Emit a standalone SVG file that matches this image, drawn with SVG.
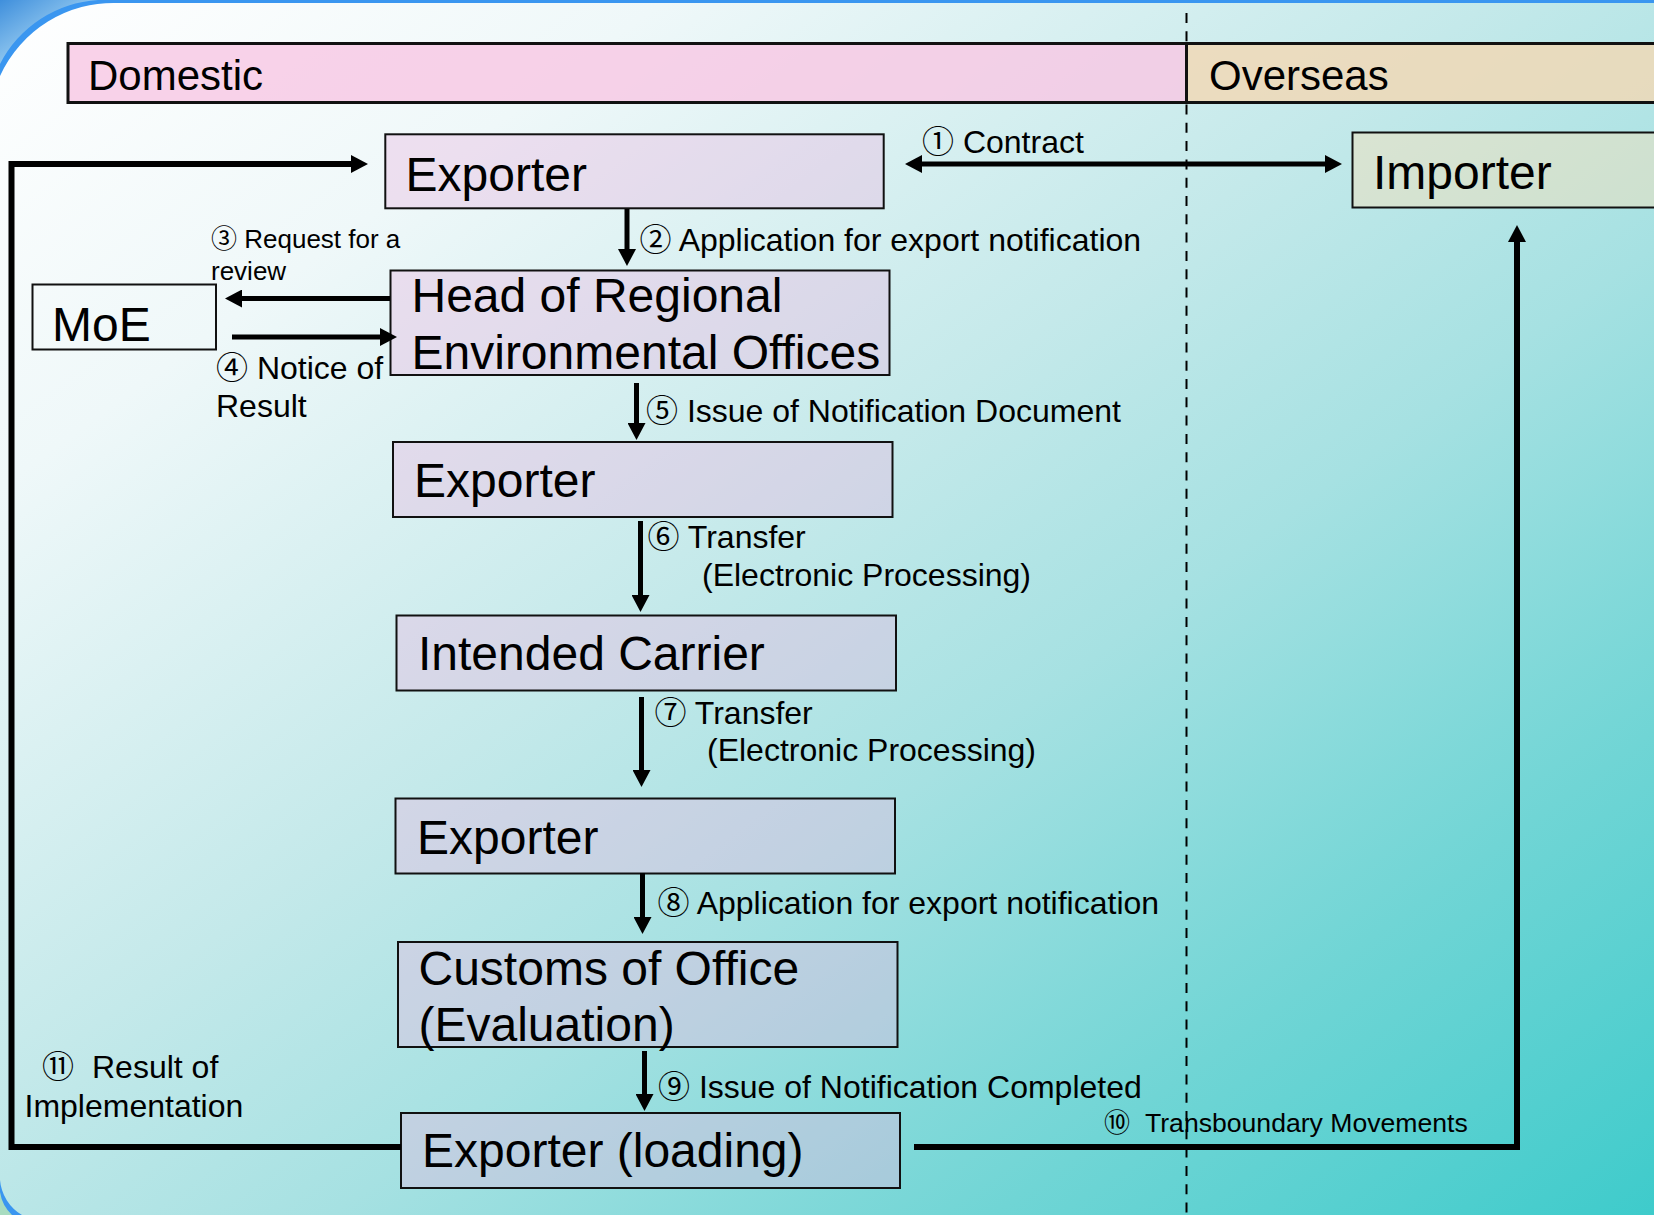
<svg xmlns="http://www.w3.org/2000/svg" width="1654" height="1215" viewBox="0 0 1654 1215">
  <defs>
    <linearGradient id="panelGrad" x1="0" y1="0" x2="1" y2="1">
      <stop offset="0" stop-color="#ffffff"/>
      <stop offset="0.2" stop-color="#eff8f9"/>
      <stop offset="0.45" stop-color="#c4e9ea"/>
      <stop offset="0.6" stop-color="#a6e1e2"/>
      <stop offset="0.8" stop-color="#70d5d5"/>
      <stop offset="1" stop-color="#3ecbcb"/>
    </linearGradient>
    <linearGradient id="cornerGrad" x1="0" y1="0" x2="1" y2="1">
      <stop offset="0" stop-color="#3f8fdc"/>
      <stop offset="0.5" stop-color="#8cc4ee"/>
      <stop offset="1" stop-color="#4d9ce6"/>
    </linearGradient>
    <marker id="ah" viewBox="0 0 17 18" refX="7" refY="9" markerWidth="17" markerHeight="18" markerUnits="userSpaceOnUse" orient="auto-start-reverse">
      <path d="M0,0 L17,9 L0,18 Z" fill="#000"/>
    </marker>
    <style>
      text { font-family: "Liberation Sans", Arial, "Noto Sans CJK JP", sans-serif; fill: #000; }
      .node { stroke: #111; stroke-width: 2; }
      .pink { fill: #e8b8e0; fill-opacity: 0.4; }
      .big { font-size: 48px; }
      .hdr { font-size: 42px; }
      .lbl { font-size: 32px; }
      .sm { font-size: 26px; }
      .conn { fill: none; stroke: #000; stroke-width: 5; }
      .loop { fill: none; stroke: #000; stroke-width: 6; stroke-linejoin: miter; }
    </style>
  </defs>

  <!-- background -->
  <rect x="0" y="0" width="1654" height="1215" fill="#3a96f0"/>
  <path d="M0,0 H98 A118,118 0 0 0 0,64 Z" fill="url(#cornerGrad)"/>
  <path d="M0,1215 V1192 A40,40 0 0 0 12,1215 Z" fill="#a8dcc0"/>
  <path d="M0,76 A125,125 0 0 1 118,3 L1654,3 L1654,1215 L22,1215 A45,45 0 0 1 0,1180 Z" fill="url(#panelGrad)"/>

  <!-- divider -->
  <line x1="1186.5" y1="13" x2="1186.5" y2="1215" stroke="#000" stroke-width="2" stroke-dasharray="10 8.3"/>

  <!-- header bars -->
  <g id="domestic">
    <rect x="68" y="43.5" width="1118.5" height="59" fill="#f8c8e4" fill-opacity="0.82" stroke="#111" stroke-width="3"/>
    <text class="hdr" x="88" y="89.5">Domestic</text>
  </g>
  <g id="overseas">
    <rect x="1186.5" y="43.5" width="520" height="59" fill="#f2d8b4" fill-opacity="0.82" stroke="#111" stroke-width="3"/>
    <text class="hdr" x="1209" y="89.5">Overseas</text>
  </g>

  <!-- nodes -->
  <g id="exporter1">
    <rect class="node pink" x="385.3" y="134.3" width="498.4" height="74"/>
    <text class="big" x="405.5" y="190.5">Exporter</text>
  </g>
  <g id="importer">
    <rect class="node" x="1352.5" y="132.5" width="400" height="75" fill="#f2e0bc" fill-opacity="0.5"/>
    <text class="big" x="1373" y="188.5">Importer</text>
  </g>
  <g id="moe">
    <rect class="node" x="32.5" y="284.5" width="183.5" height="65" fill="none"/>
    <text class="big" x="52" y="341">MoE</text>
  </g>
  <g id="head">
    <rect class="node pink" x="390.5" y="270.5" width="499" height="104.5"/>
    <text class="big" x="411.5" y="312">Head of Regional</text>
    <text class="big" x="411.5" y="369">Environmental Offices</text>
  </g>
  <g id="exporter2">
    <rect class="node pink" x="393" y="442" width="499.5" height="75"/>
    <text class="big" x="414" y="496.7">Exporter</text>
  </g>
  <g id="carrier">
    <rect class="node pink" x="396.5" y="615.5" width="499.5" height="75"/>
    <text class="big" x="418" y="670">Intended Carrier</text>
  </g>
  <g id="exporter3">
    <rect class="node pink" x="395.5" y="798.5" width="499.5" height="75"/>
    <text class="big" x="417" y="854">Exporter</text>
  </g>
  <g id="customs">
    <rect class="node pink" x="398" y="942" width="499.5" height="105"/>
    <text class="big" x="418.5" y="984.5">Customs of Office</text>
    <text class="big" x="418.5" y="1041">(Evaluation)</text>
  </g>
  <g id="loading">
    <rect class="node pink" x="401" y="1113" width="499" height="75"/>
    <text class="big" x="422" y="1167.3">Exporter (loading)</text>
  </g>

  <!-- connectors -->
  <g id="connectors">
    <path class="loop" d="M401,1147 H11.5 V164 H358" marker-end="url(#ah)"/>
    <path class="conn" d="M915,164 H1332" marker-start="url(#ah)" marker-end="url(#ah)"/>
    <path class="conn" d="M627,209 V256" marker-end="url(#ah)"/>
    <path class="conn" d="M390,298.5 H235" marker-end="url(#ah)"/>
    <path class="conn" d="M232,337 H387" marker-end="url(#ah)"/>
    <path class="conn" d="M636.5,383 V430" marker-end="url(#ah)"/>
    <path class="conn" d="M640.5,521 V602" marker-end="url(#ah)"/>
    <path class="conn" d="M641.5,697 V777" marker-end="url(#ah)"/>
    <path class="conn" d="M642.5,873 V924" marker-end="url(#ah)"/>
    <path class="conn" d="M644.5,1051 V1101" marker-end="url(#ah)"/>
    <path class="loop" d="M914,1147 H1517 V235" marker-end="url(#ah)"/>
  </g>

  <!-- labels -->
  <g id="labels">
    <text class="lbl" x="922" y="153">① Contract</text>
    <text class="lbl" x="639.5" y="251">② Application for export notification</text>
    <text class="sm" x="211" y="248">③ Request for a</text>
    <text class="sm" x="211" y="280">review</text>
    <text class="lbl" x="216" y="379">④ Notice of</text>
    <text class="lbl" x="216" y="416.7">Result</text>
    <text class="lbl" x="646" y="421.7">⑤ Issue of Notification Document</text>
    <text class="lbl" x="647.5" y="547.7">⑥ Transfer</text>
    <text class="lbl" x="702" y="585.7">(Electronic Processing)</text>
    <text class="lbl" x="654.5" y="724">⑦ Transfer</text>
    <text class="lbl" x="707" y="761">(Electronic Processing)</text>
    <text class="lbl" x="657.5" y="914">⑧ Application for export notification</text>
    <text class="lbl" x="658" y="1098">⑨ Issue of Notification Completed</text>
    <text class="sm" x="1104" y="1131.7">⑩</text>
    <text class="sm" x="1145" y="1131.7" style="font-size:26.6px">Transboundary Movements</text>
    <text class="lbl" x="42" y="1078.3">⑪</text>
    <text class="lbl" x="92" y="1078.3">Result of</text>
    <text class="lbl" x="24.5" y="1116.7">Implementation</text>
  </g>
</svg>
